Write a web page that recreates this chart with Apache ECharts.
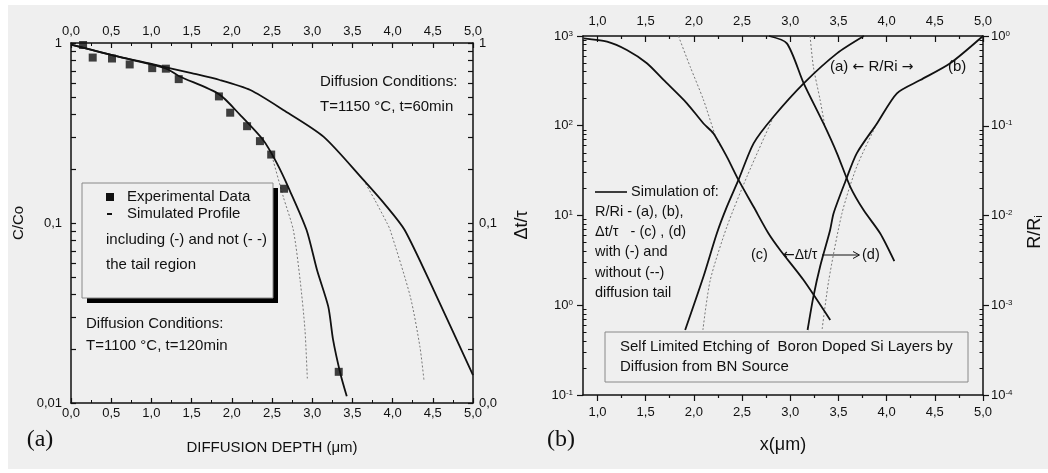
<!DOCTYPE html>
<html><head><meta charset="utf-8">
<script src="https://cdn.jsdelivr.net/npm/echarts@6/dist/echarts.min.js"></script>
<style>
html,body{margin:0;padding:0;background:#fff;}
#bg{position:absolute;left:8px;top:5px;width:1040px;height:464px;background:#efefef;}
#main{position:absolute;left:0;top:0;width:1048px;height:473px;}
</style></head>
<body><div id="bg"></div><div id="main"></div>
<script>
// ---------- Panel (a) data ----------
const expX = [0.15,0.27,0.51,0.73,1.01,1.18,1.34,1.84,1.98,2.19,2.35,2.49,2.65,3.33];
const expY = [0.975,0.83,0.82,0.76,0.725,0.72,0.63,0.505,0.41,0.345,0.285,0.24,0.155,0.0149];
const sim1100X = [0,0.5,1.0,1.2,1.34,1.84,2.1,2.39,2.56,2.72,2.93,3.06,3.2,3.26,3.35,3.43];
const sim1100Y = [0.98,0.86,0.76,0.715,0.656,0.52,0.4,0.289,0.215,0.152,0.0914,0.0548,0.0343,0.0224,0.0146,0.0109];
const sim1100DashX = [2.5,2.64,2.765,2.85,2.91,2.94];
const sim1100DashY = [0.235,0.14,0.0914,0.048,0.0255,0.0134];
const sim1150X = [0,0.5,1.0,1.5,1.85,2.23,2.64,3.14,3.64,3.93,4.15,4.51,5.0];
const sim1150Y = [0.98,0.86,0.765,0.68,0.623,0.548,0.425,0.302,0.173,0.123,0.0914,0.0425,0.0143];
const sim1150DashX = [3.64,3.78,3.93,3.97,4.22,4.34,4.39];
const sim1150DashY = [0.173,0.134,0.1,0.0914,0.039,0.0205,0.0134];
// ---------- Panel (b) data ----------
const cX = [0.857,1.10,1.305,1.513,1.686,1.928,2.10,2.204,2.343,2.463,2.62,2.775,2.895,3.138,3.415];
const cY = [943,865,698,497,324,178,106,82,45,24.9,12.5,6.3,4.13,1.91,0.685];
const cDashX = [1.84,1.962,2.10,2.24,2.29];
const cDashY = [1000,455,194,69,57];
const dX = [2.78,2.965,3.14,3.345,3.485,3.623,3.761,3.934,4.08];
const dY = [1000,828,297,106,49.3,20.9,11.5,6.3,3.1];
const dDashX = [3.206,3.24,3.31,3.36];
const dDashY = [1000,455,194,98];
const aX = [3.764,3.485,3.14,2.826,2.62,2.463,2.343,2.239,2.10,1.91];
const aY = [1,0.641,0.297,0.126,0.0637,0.0249,0.01254,0.00634,0.00209,0.00053];
const aDashX = [2.826,2.55,2.343,2.17,2.094];
const aDashY = [0.126,0.027,0.0075,0.0019,0.00053];
const bX = [5.0,4.66,4.35,4.107,3.90,3.69,3.571,3.45,3.414,3.31,3.24,3.18];
const bY = [1,0.497,0.323,0.23,0.106,0.0493,0.0238,0.0106,0.0069,0.0027,0.00124,0.00053];
const bDashX = [3.90,3.69,3.537,3.40,3.33];
const bDashY = [0.106,0.035,0.0106,0.0019,0.00053];
const xTicksB = [1,1.5,2,2.5,3,3.5,4,4.5,5];
const xMinorB = [1.25,1.75,2.25,2.75,3.25,3.75,4.25,4.75];

const zip = (xs, ys) => xs.map((x, i) => [x, ys[i]]);
function logMinors(lo, hi) { const out = []; for (let e = lo; e < hi; e++) for (let m = 2; m <= 9; m++) out.push(+(m * Math.pow(10, e)).toPrecision(3)); return out; }
const FONT = '"Liberation Sans", Arial, sans-serif';
const comma = v => (+v).toFixed(1).replace('.', ',');
const expo = v => Math.round(Math.log10(v));
const supLabel = v => '10{s|' + expo(v) + '}';
const supRich = { s: { fontSize: 8, fontFamily: FONT, color: '#111', verticalAlign: 'top', lineHeight: 8, padding: [0,0,6,0] } };
const K = '#111';

const chart = echarts.init(document.getElementById('main'), null, { renderer: 'canvas' });

const LINE = { show: true, onZero: false, lineStyle: { color: K, width: 1.5 } };
const NOLINE = { show: false, onZero: false };
const NOTICK = { show: false };
const lbl = { color: K, fontSize: 13, fontFamily: FONT };
const tk = (len, extra) => Object.assign({ show: true, inside: false, length: len, lineStyle: { color: K, width: 1.2 } }, extra || {});

// Ticks that point into the plot are drawn by helper axes placed on the opposite side
// and offset back across the grid, with outward ticks.
const xAxes = [
  // 0: panel a bottom labels
  { type: 'value', gridIndex: 0, position: 'bottom', min: 0, max: 5, interval: 0.5, axisLine: LINE,
    splitLine: { show: false }, axisTick: NOTICK, axisLabel: Object.assign({ margin: 4, formatter: comma }, lbl) },
  // 1: panel a top labels
  { type: 'value', gridIndex: 0, position: 'top', min: 0, max: 5, interval: 0.5, axisLine: LINE,
    splitLine: { show: false }, axisTick: NOTICK, axisLabel: Object.assign({ margin: 5, formatter: comma }, lbl) },
  // 2: panel a bottom ticks (pointing up)
  { type: 'value', gridIndex: 0, position: 'top', offset: -360, min: 0, max: 5, interval: 0.5, axisLine: NOLINE,
    splitLine: { show: false }, axisLabel: { show: false }, axisTick: tk(5),
    minorTick: { show: true, splitNumber: 2, length: 3, lineStyle: { color: K, width: 1 } } },
  // 3: panel a top ticks (pointing down)
  { type: 'value', gridIndex: 0, position: 'bottom', offset: -360, min: 0, max: 5, interval: 0.5, axisLine: NOLINE,
    splitLine: { show: false }, axisLabel: { show: false }, axisTick: tk(5),
    minorTick: { show: true, splitNumber: 2, length: 3, lineStyle: { color: K, width: 1 } } },
  // 4: panel b bottom labels + outward major ticks
  { type: 'value', gridIndex: 1, position: 'bottom', min: 0.85, max: 5, axisLine: LINE, splitLine: { show: false },
    axisTick: tk(6, { customValues: xTicksB }),
    axisLabel: Object.assign({ margin: 11, customValues: xTicksB, formatter: comma }, lbl) },
  // 5: panel b bottom minor ticks
  { type: 'value', gridIndex: 1, position: 'bottom', min: 0.85, max: 5, axisLine: NOLINE, splitLine: { show: false },
    axisLabel: { show: false }, axisTick: tk(3, { customValues: xMinorB }) },
  // 6: panel b top labels
  { type: 'value', gridIndex: 1, position: 'top', min: 0.85, max: 5, axisLine: LINE, splitLine: { show: false },
    axisTick: NOTICK, axisLabel: Object.assign({ margin: 8, customValues: xTicksB, formatter: comma }, lbl) },
  // 7: panel b top major ticks (pointing down)
  { type: 'value', gridIndex: 1, position: 'bottom', offset: -359, min: 0.85, max: 5, axisLine: NOLINE,
    splitLine: { show: false }, axisLabel: { show: false }, axisTick: tk(6, { customValues: xTicksB }) },
  // 8: panel b top minor ticks (pointing down)
  { type: 'value', gridIndex: 1, position: 'bottom', offset: -359, min: 0.85, max: 5, axisLine: NOLINE,
    splitLine: { show: false }, axisLabel: { show: false }, axisTick: tk(3, { customValues: xMinorB }) }
];

const aTicks = logMinors(-2, 0).concat([0.01, 0.1, 1]);
const yAxes = [
  // 0: panel a left labels
  { type: 'log', logBase: 10, gridIndex: 0, position: 'left', min: 0.01, max: 1, axisLine: LINE, splitLine: { show: false },
    axisTick: NOTICK, axisLabel: Object.assign({ margin: 9, formatter: v => ({ 0: '1', '-1': '0,1', '-2': '0,01' })[expo(v)] }, lbl) },
  // 1: panel a right labels
  { type: 'log', logBase: 10, gridIndex: 0, position: 'right', min: 0.01, max: 1, axisLine: LINE, splitLine: { show: false },
    axisTick: NOTICK, axisLabel: Object.assign({ margin: 6, formatter: v => ({ 0: '1', '-1': '0,1', '-2': '0,0' })[expo(v)] }, lbl) },
  // 2: panel a left ticks (pointing right)
  { type: 'log', logBase: 10, gridIndex: 0, position: 'right', offset: -402, min: 0.01, max: 1, axisLine: NOLINE,
    splitLine: { show: false }, axisLabel: { show: false }, axisTick: tk(5, { customValues: aTicks }) },
  // 3: panel a right ticks (pointing left)
  { type: 'log', logBase: 10, gridIndex: 0, position: 'left', offset: -402, min: 0.01, max: 1, axisLine: NOLINE,
    splitLine: { show: false }, axisLabel: { show: false }, axisTick: tk(5, { customValues: aTicks }) },
  // 4: panel b left (Δt/τ) labels + outward major ticks
  { type: 'log', logBase: 10, gridIndex: 1, position: 'left', min: 0.1, max: 1000, axisLine: LINE, splitLine: { show: false },
    axisTick: tk(6), axisLabel: Object.assign({ margin: 10, formatter: supLabel, rich: supRich }, lbl) },
  // 5: panel b right (R/Ri) labels + outward major ticks
  { type: 'log', logBase: 10, gridIndex: 1, position: 'right', min: 0.0001, max: 1, axisLine: LINE, splitLine: { show: false },
    axisTick: tk(6), axisLabel: Object.assign({ margin: 8, formatter: supLabel, rich: supRich }, lbl) },
  // 6: panel b left minor ticks (pointing right)
  { type: 'log', logBase: 10, gridIndex: 1, position: 'right', offset: -400, min: 0.1, max: 1000, axisLine: NOLINE,
    splitLine: { show: false }, axisLabel: { show: false }, axisTick: tk(3.5, { customValues: logMinors(-1, 3), lineStyle: { color: K, width: 1 } }) },
  // 7: panel b right minor ticks (pointing left)
  { type: 'log', logBase: 10, gridIndex: 1, position: 'left', offset: -400, min: 0.0001, max: 1, axisLine: NOLINE,
    splitLine: { show: false }, axisLabel: { show: false }, axisTick: tk(3.5, { customValues: logMinors(-4, 0), lineStyle: { color: K, width: 1 } }) }
];

const solid = (name, data, xi, yi) => ({ name, type: 'line', xAxisIndex: xi, yAxisIndex: yi, data, symbol: 'none', smooth: 0.25,
  lineStyle: { color: K, width: 1.8 }, z: 3 });
const dashed = (name, data, xi, yi) => ({ name, type: 'line', xAxisIndex: xi, yAxisIndex: yi, data, symbol: 'none', smooth: 0.25,
  lineStyle: { color: '#777', width: 1, type: [2, 2] }, z: 2 });

const series = [
  { name: 'Experimental Data', type: 'scatter', xAxisIndex: 0, yAxisIndex: 0, data: zip(expX, expY),
    symbol: 'rect', symbolSize: 8, itemStyle: { color: K }, z: 4 },
  solid('1100 sim', zip(sim1100X, sim1100Y), 0, 0),
  dashed('1100 no tail', zip(sim1100DashX, sim1100DashY), 0, 0),
  solid('1150 sim', zip(sim1150X, sim1150Y), 0, 0),
  dashed('1150 no tail', zip(sim1150DashX, sim1150DashY), 0, 0),
  solid('(c)', zip(cX, cY), 4, 4),
  dashed('(c) no tail', zip(cDashX, cDashY), 4, 4),
  solid('(d)', zip(dX, dY), 4, 4),
  dashed('(d) no tail', zip(dDashX, dDashY), 4, 4),
  solid('(a)', zip(aX, aY), 4, 5),
  dashed('(a) no tail', zip(aDashX, aDashY), 4, 5),
  solid('(b)', zip(bX, bY), 4, 5),
  dashed('(b) no tail', zip(bDashX, bDashY), 4, 5)
];

function T(text, x, y, opts) {
  opts = opts || {};
  const style = Object.assign({ text, fill: K, font: '15px ' + FONT, textVerticalAlign: 'middle' }, opts.style || {});
  const el = { type: 'text', x, y, z: 50, style };
  if (opts.rotation !== undefined) el.rotation = opts.rotation;
  return el;
}
const ARROW = { ar: { fontFamily: '"DejaVu Sans", sans-serif', fontSize: 14 } };
const F14 = '14.5px ' + FONT;

const graphic = [
  { type: 'rect', shape: { x: 87, y: 188, width: 191, height: 115 }, style: { fill: '#000' }, z: 40 },
  { type: 'rect', shape: { x: 82, y: 183, width: 191, height: 115 }, style: { fill: '#efefef', stroke: '#888', lineWidth: 1 }, z: 41 },
  { type: 'rect', shape: { x: 106, y: 193, width: 8, height: 8 }, style: { fill: K }, z: 50 },
  T('Experimental Data', 127, 197),
  { type: 'rect', shape: { x: 107, y: 213, width: 5, height: 2 }, style: { fill: K }, z: 50 },
  T('Simulated Profile', 127, 214),
  T('including (-) and not (- -)', 106, 240),
  T('the tail region', 106, 265),
  T('Diffusion Conditions:', 320, 82),
  T('T=1150 °C, t=60min', 320, 107),
  T('Diffusion Conditions:', 86, 324),
  T('T=1100 °C, t=120min', 86, 346),
  T('C/Co', 19, 223, { rotation: Math.PI / 2, style: { textAlign: 'center' } }),
  T('DIFFUSION DEPTH (μm)', 272, 448, { style: { textAlign: 'center' } }),
  T('(a)', 40, 440, { style: { textAlign: 'center', font: '24px "Liberation Serif", "Times New Roman", serif' } }),
  T('(b)', 561, 440, { style: { textAlign: 'center', font: '24px "Liberation Serif", "Times New Roman", serif' } }),
  T('x(μm)', 783, 445, { style: { textAlign: 'center', font: '18px ' + FONT } }),
  T('Δt/τ', 522, 225, { rotation: Math.PI / 2, style: { textAlign: 'center', font: '18px ' + FONT } }),
  { type: 'text', x: 1035, y: 232, rotation: Math.PI / 2, z: 50,
    style: { text: 'R/R{s|i}', fill: K, font: '18px ' + FONT, textAlign: 'center', textVerticalAlign: 'middle',
      rich: { s: { fontSize: 11, fontFamily: FONT, verticalAlign: 'bottom', padding: [8, 0, 0, 0] } } } },
  T('(a) {ar|←} R/Ri {ar|→}', 830, 67, { style: { rich: ARROW } }),
  T('(b)', 948, 67),
  { type: 'line', shape: { x1: 595, y1: 192, x2: 627, y2: 192 }, style: { stroke: K, lineWidth: 1.6 }, z: 50 },
  T('Simulation of:', 631, 192, { style: { font: F14 } }),
  T('R/Ri - (a), (b),', 595, 212, { style: { font: F14 } }),
  T('Δt/τ   - (c) , (d)', 595, 232, { style: { font: F14 } }),
  T('with (-) and', 595, 252, { style: { font: F14 } }),
  T('without (--)', 595, 273, { style: { font: F14 } }),
  T('diffusion tail', 595, 293, { style: { font: F14 } }),
  T('(c)', 751, 255, { style: { font: F14 } }),
  T('{ar|←}Δt/τ', 783, 255, { style: { font: '14px ' + FONT, rich: ARROW } }),
  { type: 'line', shape: { x1: 822, y1: 255, x2: 859, y2: 255 }, style: { stroke: K, lineWidth: 1 }, z: 50 },
  { type: 'polyline', shape: { points: [[853, 251.5], [859.5, 255], [853, 258.5]] }, style: { stroke: K, lineWidth: 1, fill: null }, z: 50 },
  T('(d)', 862, 255, { style: { font: F14 } }),
  { type: 'rect', shape: { x: 605, y: 332, width: 363, height: 50 }, style: { fill: '#efefef', stroke: '#888', lineWidth: 1 }, z: 41 },
  T('Self Limited Etching of  Boron Doped Si Layers by', 620, 347),
  T('Diffusion from BN Source', 620, 367)
];

chart.setOption({
  animation: false,
  backgroundColor: 'transparent',
  textStyle: { fontFamily: FONT },
  grid: [
    { left: 71, top: 43, width: 402, height: 360, containLabel: false },
    { left: 583, top: 36, width: 400, height: 359, containLabel: false }
  ],
  xAxis: xAxes,
  yAxis: yAxes,
  series,
  graphic
});
</script></body></html>
